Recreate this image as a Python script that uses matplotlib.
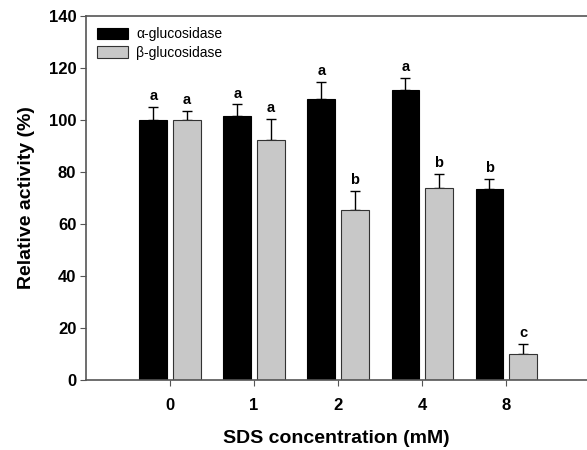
import numpy as np
import matplotlib.pyplot as plt

plt.rcParams['font.family'] = ['Liberation Sans', 'DejaVu Sans']

conc = ['0', '1', '2', '4', '8']
alpha_val = [100, 101.5, 108, 111.5, 73.5]
alpha_err = [5, 4.5, 6.7, 4.8, 4]
alpha_lab = ['a', 'a', 'a', 'a', 'b']
beta_val = [100, 92.5, 65.5, 74, 10]
beta_err = [3.5, 8.0, 7.3, 5.3, 3.7]
beta_lab = ['a', 'a', 'b', 'b', 'c']

fig = plt.figure(figsize=(5.87, 4.5), dpi=100)
ax = fig.add_axes([86 / 587, 70 / 450, 1 - 86 / 587, 364 / 450])

x = np.arange(len(conc))
w = 0.33
off = 0.2
ax.bar(x - off, alpha_val, w, color='black', edgecolor='black', linewidth=0.8,
       label='α-glucosidase', zorder=2)
ax.bar(x + off, beta_val, w, color='#c8c8c8', edgecolor='#333333', linewidth=0.8,
       label='β-glucosidase', zorder=2)
ax.errorbar(x - off, alpha_val, yerr=[np.zeros(5), alpha_err], fmt='none',
            ecolor='black', elinewidth=1, capsize=3.5, capthick=1, zorder=1)
ax.errorbar(x + off, beta_val, yerr=[np.zeros(5), beta_err], fmt='none',
            ecolor='black', elinewidth=1, capsize=3.5, capthick=1, zorder=1)

for i in range(len(conc)):
    ax.text(x[i] - off, alpha_val[i] + alpha_err[i] + 1.5, alpha_lab[i],
            ha='center', va='bottom', fontsize=10.5, fontweight='bold')
    ax.text(x[i] + off, beta_val[i] + beta_err[i] + 1.5, beta_lab[i],
            ha='center', va='bottom', fontsize=10.5, fontweight='bold')

ax.set_xlim(-1, 4.96)
ax.set_ylim(0, 140)
ax.set_xticks(x)
ax.set_xticklabels(conc, fontsize=12, fontweight='bold')
ax.set_yticks(np.arange(0, 141, 20))
ax.set_yticklabels([str(v) for v in range(0, 141, 20)], fontsize=12, fontweight='bold')
ax.tick_params(direction='out', length=4, color='#555555', pad=3)
ax.tick_params(axis='x', pad=9)

for s in ['left', 'bottom', 'top']:
    ax.spines[s].set_color('#555555')
    ax.spines[s].set_linewidth(1.2)
ax.spines['right'].set_visible(False)

ax.set_ylabel('Relative activity (%)', fontsize=14, fontweight='bold', labelpad=10)
ax.set_xlabel('SDS concentration (mM)', fontsize=14, fontweight='bold', labelpad=12)

ax.legend(loc='upper left', bbox_to_anchor=(0.0, 1.0), frameon=False, fontsize=10,
          handlelength=2.2, handleheight=0.9, labelspacing=0.35, borderaxespad=0.4,
          handletextpad=0.6)

fig.savefig('out.png', dpi=100)
